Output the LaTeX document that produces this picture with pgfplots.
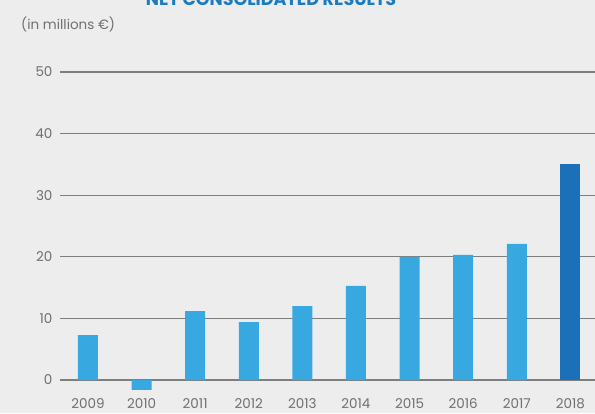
\documentclass[border=0pt]{standalone}
\usepackage{pgfplots}
\pgfplotsset{compat=1.18}
\usepackage{fontspec}
\setmainfont{Poppins}
\definecolor{bg}{HTML}{EDEDED}
\definecolor{barlight}{HTML}{38A8E0}
\definecolor{bardark}{HTML}{1C70B8}
\definecolor{titleblue}{HTML}{1A7CC1}
\definecolor{gridgray}{HTML}{7E7E7E}
\definecolor{labgray}{HTML}{707070}
\begin{document}
\begin{tikzpicture}
\useasboundingbox (0pt,0pt) rectangle (595pt,413pt);
\clip (0pt,0pt) rectangle (595pt,413pt);
\fill[bg] (0pt,0pt) rectangle (595pt,413pt);
\node[anchor=base, text=titleblue, font=\fontsize{17.5}{19}\selectfont\bfseries] at (271pt,407pt) {NET CONSOLIDATED RESULTS};
\node[anchor=west, text=labgray, font=\fontsize{13.5}{15}\selectfont, inner sep=0pt] at (21pt,389pt) {(in millions €)};
\begin{scope}[shift={(60pt,15pt)}]
\begin{axis}[
  anchor=south west,
  scale only axis, width=535pt, height=356.8pt,
  xmin=-0.522, xmax=9.46, ymin=-2.92, ymax=55,
  axis line style={draw=none},
  ytick={0,10,20,30,40,50},
  xtick={0,...,9},
  xticklabels={2009,2010,2011,2012,2013,2014,2015,2016,2017,2018},
  ymajorgrids, grid style={gridgray, line width=1.3pt},
  major tick length=0pt,
  tick label style={text=labgray, font=\fontsize{13.5}{15}\selectfont},
  yticklabel style={xshift=-4pt},
  xticklabel style={yshift=3pt},
  /pgf/number format/assume math mode=true,
  ybar, bar width=20pt, bar shift=0pt,
  clip=false,
]
\addplot[fill=barlight, draw=none] coordinates {(0,7.3) (1,-1.6) (2,11.2) (3,9.4) (4,12.0) (5,15.3) (6,20.0) (7,20.3) (8,22.1)};
\addplot[fill=bardark, draw=none] coordinates {(9,35.1)};
\end{axis}
\end{scope}
\end{tikzpicture}
\end{document}
